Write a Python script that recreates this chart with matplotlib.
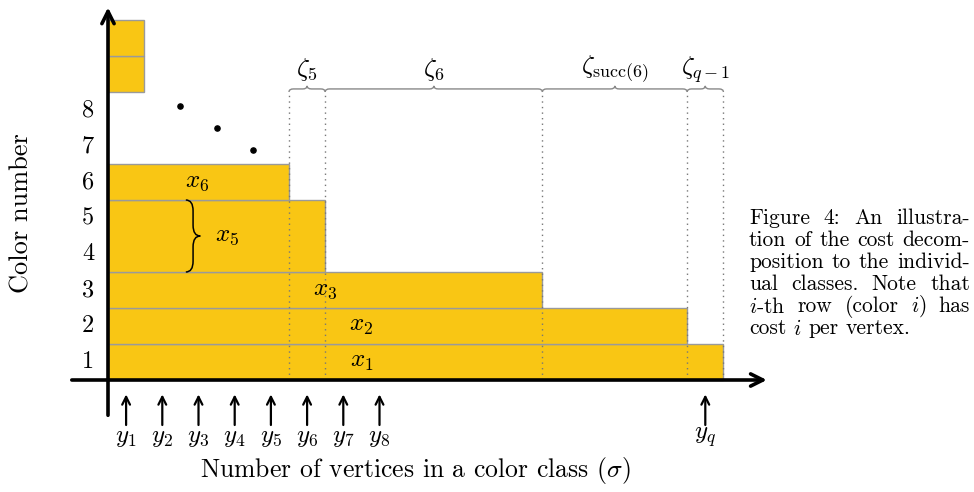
import matplotlib
matplotlib.use("Agg")
import matplotlib.pyplot as plt
from matplotlib.path import Path
from matplotlib.patches import PathPatch

plt.rcParams['font.family'] = 'serif'
plt.rcParams['font.serif'] = ['cmr10']
plt.rcParams['mathtext.fontset'] = 'cm'
plt.rcParams['axes.unicode_minus'] = False

# rows of the staircase: bottom color, number of colors stacked, width
row_bottom = [0, 1, 2, 3, 5]
row_height = [1, 1, 1, 2, 1]
row_width = [17, 16, 12, 6, 5]
row_label = ['$x_1$', '$x_2$', '$x_3$', '$x_5$', '$x_6$']
label_x = [7.0, 7.0, 6.0, 3.3, 2.45]
label_y = [0.5, 1.5, 2.5, 4.0, 5.5]

# two loose blocks near the top of the color axis
top_bottom = [8, 9]
top_width = [1, 1]

color_ticks = [1, 2, 3, 4, 5, 6, 7, 8]

# dots standing for the omitted rows
dot_x = [2.0, 3.0, 4.0]
dot_y = [7.6, 7.0, 6.4]

# zeta intervals along the top
zeta_edges = [5, 6, 12, 16, 17]
zeta_label = [r'$\zeta_5$', r'$\zeta_6$', r'$\zeta_{\mathrm{succ}(6)}$', r'$\zeta_{q-1}$']

# class sizes marked under the axis
y_pos = [0.5, 1.5, 2.5, 3.5, 4.5, 5.5, 6.5, 7.5, 16.5]
y_label = ['$y_1$', '$y_2$', '$y_3$', '$y_4$', '$y_5$', '$y_6$', '$y_7$', '$y_8$', '$y_q$']

caption = ["Figure 4:  An illustra-",
           "tion of the cost decom-",
           "position to the individ-",
           "ual classes.  Note that",
           "$i$-th row (color $i$) has",
           "cost $i$ per vertex."]

yellow = '#F9C614'
edge = '#9a9a9a'


def brace(ax, a, b, base, amp, r, vertical=False, **kw):
    # curly brace from a to b, ends at base, tip at base+amp
    m = (a + b) / 2
    h = amp / 2
    pts = [(a, base), (a, base + h), (a + r, base + h), (m - r, base + h),
           (m, base + h), (m, base + amp), (m, base + h), (m + r, base + h),
           (b - r, base + h), (b, base + h), (b, base)]
    codes = [Path.MOVETO, Path.CURVE3, Path.CURVE3, Path.LINETO,
             Path.CURVE3, Path.CURVE3, Path.CURVE3, Path.CURVE3,
             Path.LINETO, Path.CURVE3, Path.CURVE3]
    if vertical:
        pts = [(q, p) for p, q in pts]
    ax.add_patch(PathPatch(Path(pts, codes), fill=False, **kw))


fig = plt.figure(figsize=(9.74, 4.92), dpi=100)
ax = fig.add_axes([0, 0, 1, 1])
ax.set_xlim(-108 / 36.2, 866 / 36.2)
ax.set_ylim(-112 / 36.0, 380 / 36.0)
ax.axis('off')

ax.barh(row_bottom, row_width, height=row_height, left=0, align='edge',
        color=yellow, edgecolor=edge, linewidth=1, zorder=2)
ax.barh(top_bottom, top_width, height=1, left=0, align='edge',
        color=yellow, edgecolor=edge, linewidth=1, zorder=2)

for lx, ly, t in zip(label_x, label_y, row_label):
    ax.text(lx, ly, t, ha='center', va='center', fontsize=18, zorder=4)

for k in color_ticks:
    ax.text(-0.55, k - 0.5, str(k), ha='center', va='center', fontsize=17.5)

ax.scatter(dot_x, dot_y, s=14, color='black', zorder=4)

# dotted guides and braces on top
for e in zeta_edges:
    ax.plot([e, e], [0, 8.0], color='#777777', lw=1, ls=(0, (1, 3)), zorder=3)
for i, t in enumerate(zeta_label):
    a, b = zeta_edges[i], zeta_edges[i + 1]
    brace(ax, a, b, 8.0, 0.17, 0.12, color='#888888', lw=1)
    ax.text((a + b) / 2, 8.62, t, ha='center', va='center', fontsize=18.5)

# brace around rows 4 and 5
brace(ax, 3.0, 5.0, 2.15, 0.4, 0.3, vertical=True, color='black', lw=1.1, zorder=4)

# axes with arrows
ax.annotate('', xy=(18.2, 0), xytext=(-1.0, 0),
            arrowprops=dict(arrowstyle='->', lw=2.6, mutation_scale=22,
                            color='black', shrinkA=0, shrinkB=0), zorder=5)
ax.annotate('', xy=(0, 10.35), xytext=(0, -0.98),
            arrowprops=dict(arrowstyle='->', lw=2.6, mutation_scale=22,
                            color='black', shrinkA=0, shrinkB=0), zorder=5)

for p, t in zip(y_pos, y_label):
    ax.annotate('', xy=(p, -0.4), xytext=(p, -1.25),
                arrowprops=dict(arrowstyle='->', lw=1.6, mutation_scale=14,
                                color='black', shrinkA=0, shrinkB=0))
    ax.text(p, -1.6, t, ha='center', va='center', fontsize=18)

ax.text(8.48, -2.52, r'Number of vertices in a color class ($\sigma$)',
        ha='center', va='center', fontsize=18.5)
ax.text(-2.38, 4.64, 'Color number', ha='center', va='center',
        rotation=90, fontsize=19)

# justified caption block, left 749 px, right 970 px
renderer = fig.canvas.get_renderer()
to_data = ax.transData.inverted()
left_px, right_px = 749, 970
for i, line in enumerate(caption):
    yd = 4.5 - i * 0.615
    words = line.replace('  ', ' ').split(' ')
    texts = [ax.text(0, yd, w, ha='left', va='center', fontsize=15.5) for w in words]
    widths = [t.get_window_extent(renderer).width for t in texts]
    if i < len(caption) - 1:
        gap = (right_px - left_px - sum(widths)) / (len(words) - 1)
    else:
        gap = 7.0
    x = left_px
    for t, w in zip(texts, widths):
        xd = to_data.transform((x, 0))[0]
        t.set_x(xd)
        x += w + gap

fig.savefig('out.png', dpi=100)
